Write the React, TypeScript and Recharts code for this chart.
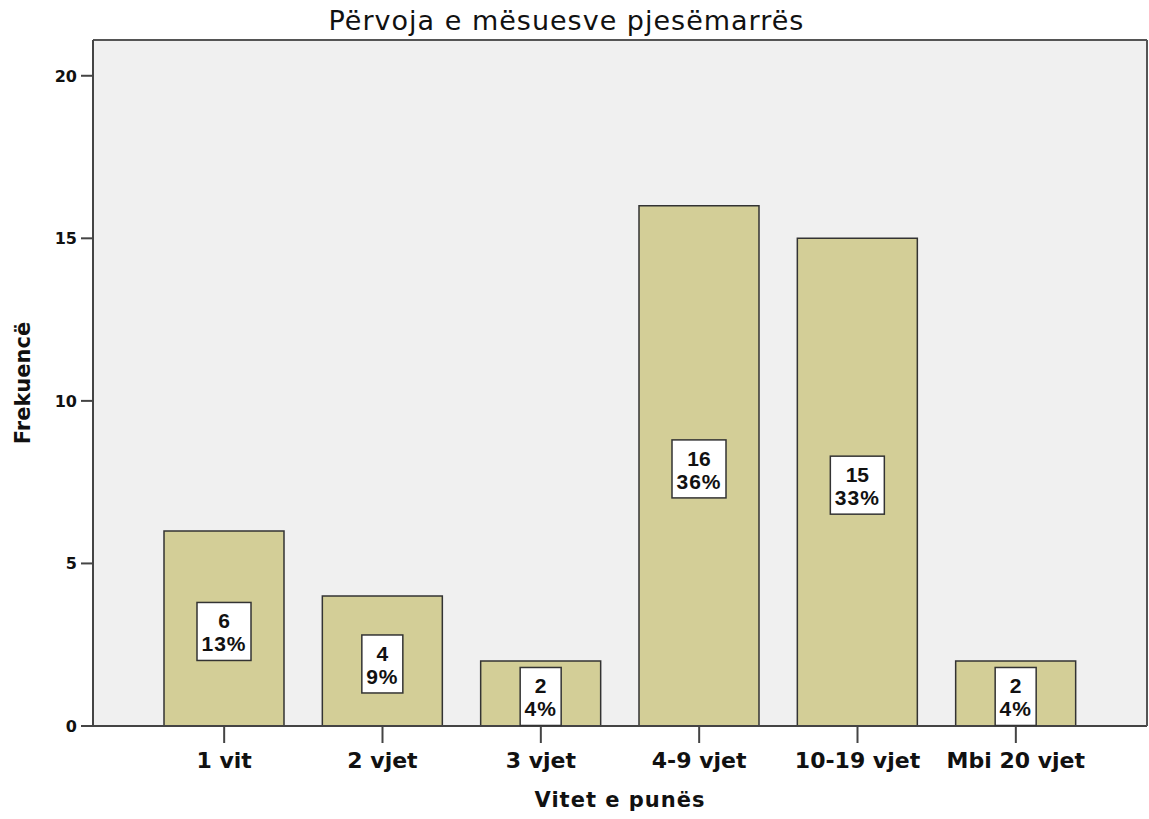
import React from "react";
import {
  BarChart,
  Bar,
  XAxis,
  YAxis,
  CartesianGrid,
  LabelList,
  Label,
  ReferenceLine,
} from "recharts";

const categories = ["1 vit", "2 vjet", "3 vjet", "4-9 vjet", "10-19 vjet", "Mbi 20 vjet"];
const counts = [6, 4, 2, 16, 15, 2];
const percents = ["13%", "9%", "4%", "36%", "33%", "4%"];
const yTicks = [0, 5, 10, 15, 20];
const yMax = 21.1;

const data = categories.map((cat, i) => ({ cat, count: counts[i] }));

const AXIS_FONT = "'DejaVu Sans', Verdana, sans-serif";
const BOX_FONT = "'Liberation Sans', Arial, sans-serif";

function BoxLabel(props: any) {
  const { x, y, width, height, value, index } = props;
  const pct = percents[index];
  const boxW = 13 * pct.length + 15;
  const boxH = 58;
  const cx = x + width / 2;
  const cy = y + height / 2 + 3;
  return (
    <g>
      <rect
        x={cx - boxW / 2}
        y={cy - boxH / 2}
        width={boxW}
        height={boxH}
        fill="#ffffff"
        stroke="#333333"
        strokeWidth={1.5}
      />
      <text
        x={cx}
        y={cy - 3}
        textAnchor="middle"
        fontFamily={BOX_FONT}
        fontWeight="bold"
        fontSize={21}
        fill="#111"
      >
        {value}
      </text>
      <text
        x={cx}
        y={cy + 20}
        textAnchor="middle"
        fontFamily={BOX_FONT}
        fontWeight="bold"
        fontSize={21}
        letterSpacing={1}
        fill="#111"
      >
        {pct}
      </text>
    </g>
  );
}

function YTick(props: any) {
  const { x, y, payload } = props;
  return (
    <text
      x={x}
      y={y}
      dy={6}
      textAnchor="end"
      style={{ fontFamily: AXIS_FONT, fontWeight: "bold", fontSize: "16px" }}
      fill="#111"
    >
      {payload.value}
    </text>
  );
}

export default function App() {
  return (
    <div style={{ position: "absolute", left: 0, top: 0, width: 1149, height: 819, background: "#fff" }}>
      <div
        style={{
          position: "absolute",
          left: -8,
          top: 3,
          width: 1149,
          textAlign: "center",
          fontFamily: AXIS_FONT,
          fontSize: 27,
          letterSpacing: 1,
          color: "#111",
          lineHeight: "36px",
        }}
      >
        Përvoja e mësuesve pjesëmarrës
      </div>
      <BarChart
        width={1149}
        height={819}
        data={data}
        margin={{ top: 40, right: 0, bottom: 0, left: 0 }}
      >
        <CartesianGrid fill="#f0f0f0" horizontal={false} vertical={false} />
        <XAxis
          dataKey="cat"
          height={93}
          padding={{ left: 52, right: 52 }}
          tickSize={17}
          tickMargin={9}
          axisLine={{ stroke: "#444", strokeWidth: 2 }}
          tickLine={{ stroke: "#444", strokeWidth: 2 }}
          tick={{ fill: "#111", fontFamily: AXIS_FONT, fontWeight: "bold", fontSize: 22 }}
          interval={0}
        >
          <Label
            content={({ viewBox }: any) => (
              <text
                x={viewBox.x + viewBox.width / 2}
                y={807}
                textAnchor="middle"
                fontFamily={AXIS_FONT}
                fontWeight="bold"
                fontSize={21}
                letterSpacing={1}
                fill="#111"
              >
                Vitet e punës
              </text>
            )}
          />
        </XAxis>
        <YAxis
          width={93}
          domain={[0, yMax]}
          ticks={yTicks}
          allowDataOverflow
          tickSize={12}
          tickMargin={4}
          axisLine={{ stroke: "#444", strokeWidth: 2 }}
          tickLine={{ stroke: "#444", strokeWidth: 2 }}
          tick={<YTick />}
        >
          <Label
            content={({ viewBox }: any) => (
              <text
                x={30}
                y={viewBox.y + viewBox.height / 2}
                transform={`rotate(-90 30 ${viewBox.y + viewBox.height / 2})`}
                textAnchor="middle"
                fontFamily={AXIS_FONT}
                fontWeight="bold"
                fontSize={21}
                fill="#111"
              >
                Frekuencë
              </text>
            )}
          />
        </YAxis>
        <YAxis
          yAxisId="right"
          orientation="right"
          width={2}
          domain={[0, yMax]}
          tick={false}
          tickLine={false}
          axisLine={{ stroke: "#555", strokeWidth: 2 }}
        />
        <ReferenceLine y={yMax} stroke="#555" strokeWidth={2} />
        <Bar
          dataKey="count"
          barSize={120}
          fill="#d3ce97"
          stroke="#333333"
          strokeWidth={1.5}
          isAnimationActive={false}
        >
          <LabelList dataKey="count" content={BoxLabel} />
        </Bar>
      </BarChart>
    </div>
  );
}
